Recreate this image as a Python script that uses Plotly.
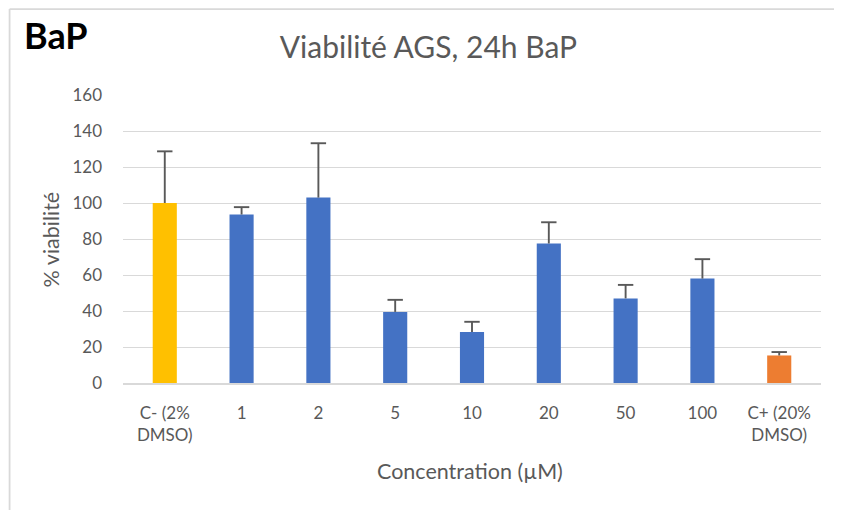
import plotly.graph_objects as go

categories = ["C- (2%<br>DMSO)", "1", "2", "5", "10", "20", "50", "100", "C+ (20%<br>DMSO)"]
viability = [100, 93.6, 103, 39.5, 28.3, 77.5, 47, 58, 15.3]
sd = [28.7, 4.1, 30.2, 6.7, 5.7, 11.8, 7.5, 10.8, 1.9]
bar_colors = ["#FFC000", "#4472C4", "#4472C4", "#4472C4", "#4472C4", "#4472C4", "#4472C4", "#4472C4", "#ED7D31"]
y_ticks = [0, 20, 40, 60, 80, 100, 120, 140, 160]

W, H = 842, 510
OFF = 8  # page body margin
# desired plot area in screen pixels
SX0, SX1, SY0, SY1 = 122.5, 821, 95, 383.3
L, T = SX0 - OFF, SY0 - OFF
R, B = W - (SX1 - OFF), H - (SY1 - OFF)
pw, ph = SX1 - SX0, SY1 - SY0

def px(x):
    return (x - SX0) / pw

def py(y):
    return (SY1 - y) / ph

FONT = "Lato"
GRAY = "#595959"
ERR = "#595959"

tops = [v + s for v, s in zip(viability, sd)]
stem_x, stem_y = [], []
for c, v, t in zip(categories, viability, tops):
    stem_x += [c, c, None]
    stem_y += [v, t, None]

fig = go.Figure()
fig.add_trace(go.Bar(
    x=categories, y=viability,
    marker=dict(color=bar_colors, line=dict(width=0)),
))
fig.add_trace(go.Scatter(x=stem_x, y=stem_y, mode="lines",
                         line=dict(color=ERR, width=1.9), hoverinfo="skip"))
fig.add_trace(go.Scatter(x=categories, y=tops, mode="markers",
                         marker=dict(symbol="line-ew", size=11, line=dict(color=ERR, width=1.9)),
                         hoverinfo="skip"))

fig.update_layout(
    width=W, height=H,
    margin=dict(l=L, r=R, t=T, b=B, autoexpand=False),
    paper_bgcolor="white", plot_bgcolor="white",
    bargap=0.686,
    showlegend=False,
    font=dict(family=FONT, color=GRAY),
    xaxis=dict(showgrid=False, showline=True, linecolor="#d9d9d9", linewidth=1.5,
               tickfont=dict(family=FONT, size=17, color=GRAY), ticks="", ticklabelstandoff=14),
    yaxis=dict(range=[0, 160], tickvals=y_ticks, showgrid=True, gridcolor="#d9d9d9", gridwidth=1.4,
               zeroline=False, showline=False, ticks="", ticklabelstandoff=20,
               tickfont=dict(family=FONT, size=17, color=GRAY)),
    title=dict(text="Viabilité AGS, 24h BaP", font=dict(family=FONT, size=30, color=GRAY),
               xref="container", x=(428.4 - OFF) / W, xanchor="center",
               yref="container", y=1 - (47 - OFF) / H, yanchor="middle"),
)

fig.add_annotation(text="<b>BaP</b>", xref="paper", yref="paper", x=px(21), y=py(35),
                   xanchor="left", yanchor="middle", showarrow=False,
                   font=dict(family=FONT, size=36, color="black"))
fig.add_annotation(text="% viabilité", xref="paper", yref="paper", x=px(50), y=py(240),
                   xanchor="center", yanchor="middle", textangle=-90, showarrow=False,
                   font=dict(family=FONT, size=21.5, color=GRAY))
fig.add_annotation(text="Concentration (µM)", xref="paper", yref="paper", x=px(470), y=py(471),
                   xanchor="center", yanchor="middle", showarrow=False,
                   font=dict(family=FONT, size=21.5, color=GRAY))

# chart frame (top and left edges visible in the reference)
fig.add_shape(type="line", xref="paper", yref="paper", x0=px(9), y0=py(9), x1=px(860), y1=py(9),
              line=dict(color="#d9d9d9", width=1.8), layer="below")
fig.add_shape(type="line", xref="paper", yref="paper", x0=px(9), y0=py(9), x1=px(9), y1=py(540),
              line=dict(color="#d9d9d9", width=1.8), layer="below")

fig.write_html("out.html")
